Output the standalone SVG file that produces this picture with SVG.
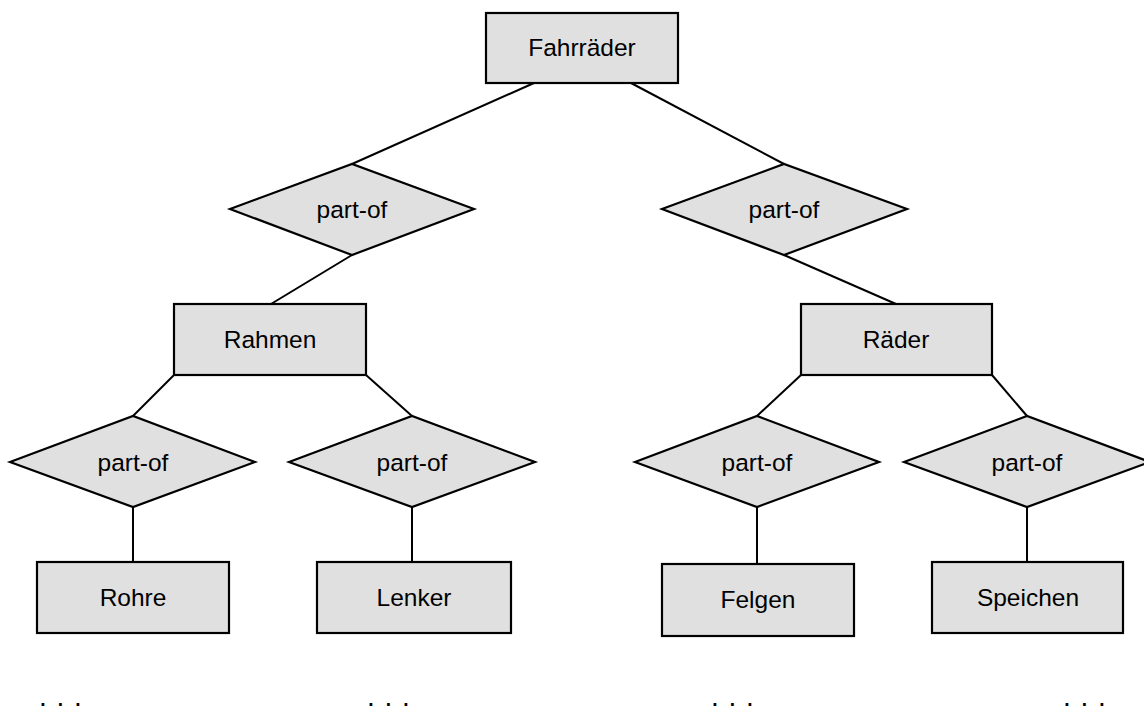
<svg xmlns="http://www.w3.org/2000/svg" width="1144" height="710" viewBox="0 0 1144 710">
<style>
.box{fill:#e0e0e0;stroke:#000;stroke-width:2.2}
.lbl{font-family:"Liberation Sans",Arial,sans-serif;font-size:24.5px;fill:#000;text-anchor:middle}
.dots{font-family:"Liberation Sans",Arial,sans-serif;font-size:28px;fill:#000;letter-spacing:9.7px}
.con{stroke:#000;stroke-width:2;fill:none}
</style>
<rect width="1144" height="710" fill="#fff"/>
<g id="connectors">
<line class="con" x1="534" y1="83" x2="352" y2="164"/>
<line class="con" x1="631" y1="83" x2="784" y2="164"/>
<line class="con" x1="352" y1="255" x2="271" y2="304"/>
<line class="con" x1="784" y1="255" x2="896" y2="304"/>
<line class="con" x1="174" y1="375" x2="133" y2="416"/>
<line class="con" x1="366" y1="375" x2="412" y2="416"/>
<line class="con" x1="801" y1="375" x2="757" y2="416"/>
<line class="con" x1="992" y1="375" x2="1027" y2="416"/>
<line class="con" x1="133" y1="507" x2="133" y2="562"/>
<line class="con" x1="412" y1="507" x2="412" y2="562"/>
<line class="con" x1="757" y1="507" x2="757" y2="564"/>
<line class="con" x1="1027" y1="507" x2="1027" y2="562"/>
</g>
<g id="fahrraeder"><rect class="box" x="486" y="13" width="192" height="70"/><text class="lbl" x="582" y="56">Fahrräder</text></g>
<g id="partof-l"><polygon class="box" points="230,209 352,164 474,209 352,255"/><text class="lbl" x="352" y="218">part-of</text></g>
<g id="partof-r"><polygon class="box" points="662,209 784,164 907,209 784,255"/><text class="lbl" x="784" y="218">part-of</text></g>
<g id="rahmen"><rect class="box" x="174" y="304" width="192" height="71"/><text class="lbl" x="270" y="348">Rahmen</text></g>
<g id="raeder"><rect class="box" x="801" y="304" width="191" height="71"/><text class="lbl" x="896" y="348">Räder</text></g>
<g id="partof-1"><polygon class="box" points="10,462 133,416 255,462 133,507"/><text class="lbl" x="133" y="471">part-of</text></g>
<g id="partof-2"><polygon class="box" points="289,462 412,416 535,462 412,507"/><text class="lbl" x="412" y="471">part-of</text></g>
<g id="partof-3"><polygon class="box" points="635,462 757,416 879,462 757,507"/><text class="lbl" x="757" y="471">part-of</text></g>
<g id="partof-4"><polygon class="box" points="904,462 1027,416 1150,462 1027,507"/><text class="lbl" x="1027" y="471">part-of</text></g>
<g id="rohre"><rect class="box" x="37" y="562" width="192" height="71"/><text class="lbl" x="133" y="606">Rohre</text></g>
<g id="lenker"><rect class="box" x="317" y="562" width="194" height="71"/><text class="lbl" x="414" y="606">Lenker</text></g>
<g id="felgen"><rect class="box" x="662" y="564" width="192" height="72"/><text class="lbl" x="758" y="608">Felgen</text></g>
<g id="speichen"><rect class="box" x="932" y="562" width="191" height="71"/><text class="lbl" x="1028" y="606">Speichen</text></g>
<g id="ellipses">
<text class="dots" x="39" y="706">...</text>
<text class="dots" x="367" y="706">...</text>
<text class="dots" x="711" y="706">...</text>
<text class="dots" x="1063" y="706">...</text>
</g>
</svg>
